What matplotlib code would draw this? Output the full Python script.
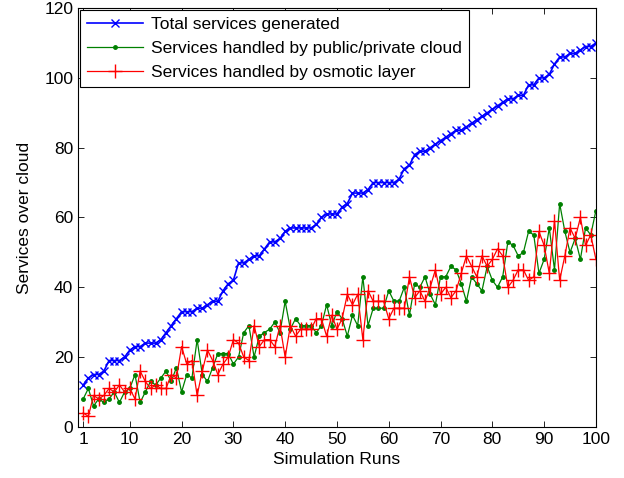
import numpy as np
import matplotlib
matplotlib.use("Agg")
import matplotlib.pyplot as plt

plt.rcParams['font.family'] = ['Liberation Sans', 'DejaVu Sans']

# simulation run index
runs = np.arange(1, 101)

# total services generated per run
total = [12, 14, 15, 15, 16, 19, 19, 19, 20, 22,
         23, 23, 24, 24, 24, 25, 27, 29, 31, 33,
         33, 33, 34, 34, 35, 36, 36, 39, 41, 42,
         47, 47, 48, 49, 49, 51, 53, 53, 54, 56,
         57, 57, 57, 57, 57, 58, 60, 61, 61, 61,
         63, 64, 67, 67, 67, 68, 70, 70, 70, 70,
         70, 71, 74, 75, 78, 79, 79, 80, 81, 82,
         83, 84, 85, 85, 86, 87, 88, 89, 90, 91,
         92, 93, 94, 94, 95, 95, 98, 98, 100, 100,
         101, 104, 106, 106, 107, 107, 108, 109, 109, 110]

# services handled by public/private cloud
cloud = [8, 11, 6, 8, 7, 8, 10, 7, 10, 11,
         15, 7, 10, 13, 12, 14, 16, 13, 17, 10,
         15, 14, 25, 15, 13, 17, 21, 21, 21, 18,
         20, 27, 29, 20, 26, 27, 28, 30, 27, 36,
         28, 31, 29, 29, 29, 27, 29, 35, 29, 33,
         31, 26, 32, 29, 43, 29, 34, 34, 34, 39,
         36, 36, 40, 32, 41, 40, 43, 38, 35, 43,
         43, 46, 45, 41, 36, 43, 41, 39, 46, 42,
         40, 43, 53, 52, 49, 50, 56, 55, 44, 48,
         57, 45, 64, 56, 50, 54, 48, 57, 55, 62]

# services handled by osmotic layer
osmotic = [4, 3, 9, 8, 9, 11, 10, 12, 10, 11,
           8, 16, 13, 11, 12, 11, 11, 15, 14, 23,
           18, 19, 9, 16, 22, 19, 15, 18, 20, 25,
           24, 20, 19, 29, 23, 25, 25, 23, 29, 20,
           29, 26, 28, 28, 28, 31, 31, 26, 32, 28,
           31, 38, 35, 38, 25, 39, 36, 36, 36, 31,
           34, 34, 34, 43, 37, 39, 36, 40, 45, 38,
           40, 37, 39, 44, 49, 46, 43, 49, 46, 48,
           51, 49, 40, 42, 45, 45, 42, 43, 56, 52,
           44, 59, 42, 49, 57, 54, 60, 52, 55, 48]

fig = plt.figure(figsize=(6.24, 4.78), dpi=100)
ax = fig.add_axes([0.125, 0.107, 0.830, 0.876])

ax.plot(runs, total, color=(0, 0, 1), marker='x', markersize=6,
        linewidth=1.2, label='Total services generated')
ax.plot(runs, cloud, color=(0, 0.5, 0), marker='.', markersize=5,
        linewidth=0.9, label='Services handled by public/private cloud')
ax.plot(runs, osmotic, color=(1, 0, 0), marker='+', markersize=10,
        linewidth=0.9, label='Services handled by osmotic layer')

ax.set_xlim(0, 100)
ax.set_ylim(0, 120)
ax.set_xticks([1, 10, 20, 30, 40, 50, 60, 70, 80, 90, 100])
ax.set_yticks(np.arange(0, 121, 20))
ax.tick_params(direction='in', top=True, right=True, labelsize=12.5,
               length=4, width=0.6)
for s in ax.spines.values():
    s.set_linewidth(0.8)

ax.set_xlabel('Simulation Runs', fontsize=12.5, labelpad=4)
ax.set_ylabel('Services over cloud', fontsize=12.5, labelpad=9)

leg = ax.legend(loc='upper left', fontsize=12.5, fancybox=False,
                framealpha=1, edgecolor='black', borderpad=0.4,
                handlelength=3.2, handletextpad=0.5, labelspacing=0.5,
                borderaxespad=0.12)
leg.get_frame().set_linewidth(0.8)

fig.savefig('out.png', dpi=100)
